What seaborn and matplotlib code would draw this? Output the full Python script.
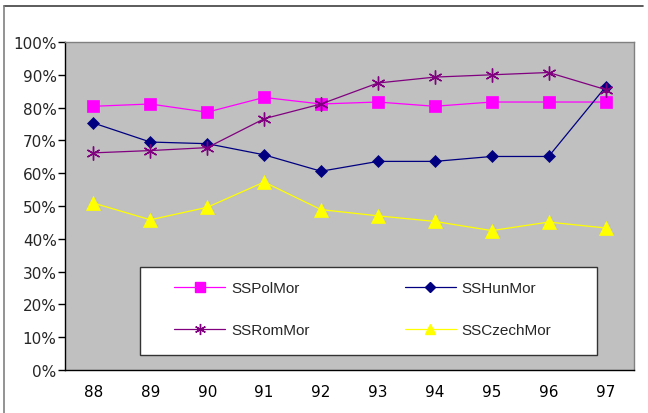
import numpy as np
import pandas as pd
import matplotlib
matplotlib.use("Agg")
import matplotlib.pyplot as plt
from matplotlib.lines import Line2D
from matplotlib.patches import Rectangle
import seaborn as sns

years = ["88", "89", "90", "91", "92", "93", "94", "95", "96", "97"]
ss_pol = [0.804, 0.811, 0.786, 0.831, 0.811, 0.817, 0.804, 0.817, 0.817, 0.817]
ss_hun = [0.753, 0.695, 0.690, 0.656, 0.606, 0.636, 0.636, 0.651, 0.651, 0.863]
ss_rom = [0.662, 0.669, 0.678, 0.766, 0.811, 0.875, 0.893, 0.900, 0.907, 0.855]
ss_czech = [0.509, 0.458, 0.496, 0.573, 0.489, 0.470, 0.453, 0.425, 0.451, 0.433]

series = [
    ("SSPolMor", ss_pol, "#FF00FF", "s", 8.5),
    ("SSHunMor", ss_hun, "#000080", "D", 6.5),
    ("SSRomMor", ss_rom, "#800080", (6, 2, 0), 10),
    ("SSCzechMor", ss_czech, "#FFFF00", "^", 9.5),
]

sns.set_theme(style="white")
plt.rcParams["font.family"] = ["DejaVu Sans"]

fig = plt.figure(figsize=(6.48, 4.14), dpi=100)
ax = fig.add_axes([65 / 648, 1 - 371 / 414, 569 / 648, 328 / 414])
ax.set_facecolor("#C0C0C0")

pos = np.arange(len(years))
for name, vals, col, mk, ms in series:
    df = pd.DataFrame({"pos": pos, "val": vals})
    sns.lineplot(data=df, x="pos", y="val", ax=ax, color=col, marker=mk,
                 markersize=ms, linewidth=0.9, markeredgecolor=col,
                 markeredgewidth=1.0 if mk == (6, 2, 0) else 0.5,
                 label=name, legend=False)

ax.set_xlim(-0.5, len(years) - 0.5)
ax.set_ylim(0, 1)
ax.set_yticks(np.arange(0, 1.01, 0.1))
ax.set_yticklabels([f"{int(round(v * 100))}%" for v in np.arange(0, 1.01, 0.1)])
ax.set_xticks(pos)
ax.set_xticklabels(years)
ax.set_xticks(np.arange(-0.5, len(years)), minor=True)
ax.set_xlabel("")
ax.set_ylabel("")

ax.tick_params(axis="x", which="major", length=0, pad=10, labelsize=11, colors="black")
ax.tick_params(axis="x", which="minor", direction="inout", length=8, width=1, color="black")
ax.tick_params(axis="y", which="major", direction="out", length=5, width=1, color="black",
               left=True, labelsize=11, pad=1)
ax.grid(False)

for s in ["top", "right"]:
    ax.spines[s].set_color("#808080")
    ax.spines[s].set_linewidth(1.0)
for s in ["left", "bottom"]:
    ax.spines[s].set_color("black")
    ax.spines[s].set_linewidth(1.0)

# legend box
x0 = (140 - 65) / 569
y0 = (371 - 356) / 328
w = (597 - 140) / 569
h = (356 - 268) / 328
ax.add_patch(Rectangle((x0, y0), w, h, transform=ax.transAxes, facecolor="white",
                       edgecolor="#333333", linewidth=1.0, zorder=5))

handles = []
for name, vals, col, mk, ms in series:
    handles.append(Line2D([], [], color=col, marker=mk, markersize=ms * 0.8,
                          markeredgecolor=col, linewidth=0.9, label=name))
order = [0, 2, 1, 3]
leg = ax.legend([handles[i] for i in order], [series[i][0] for i in order],
                ncol=2, frameon=False, loc="upper left",
                bbox_to_anchor=((174 - 65) / 569, (371 - 282) / 328),
                handlelength=3.35, handletextpad=0.4, labelspacing=1.83,
                columnspacing=6.2, borderaxespad=0, borderpad=0,
                prop={"family": ["Liberation Sans Narrow", "Liberation Sans"], "size": 11})
leg.set_zorder(6)

# outer chart frame
fig.add_artist(Line2D([4 / 648, 643 / 648], [1 - 7 / 414, 1 - 7 / 414],
                      transform=fig.transFigure, color="#404040", linewidth=1.2))
fig.add_artist(Line2D([4 / 648, 4 / 648], [1 - 7 / 414, 0],
                      transform=fig.transFigure, color="#808080", linewidth=1.2))

fig.savefig("out.png", dpi=100)
